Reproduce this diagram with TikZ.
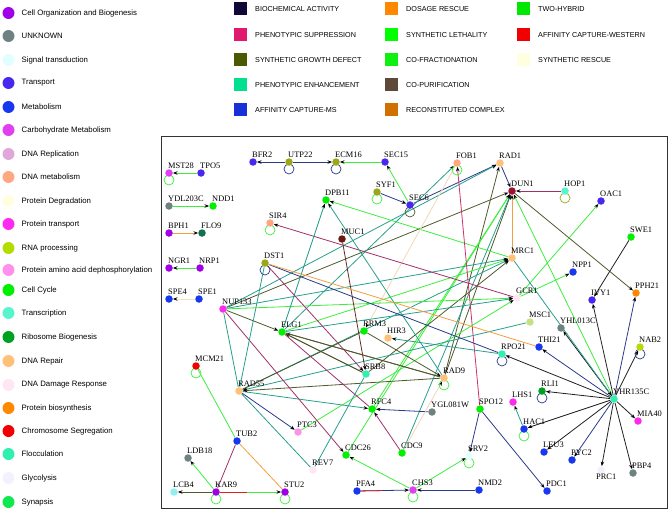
\documentclass[tikz,border=0pt]{standalone}
\usepackage{fontspec}
\setmainfont{Liberation Serif}
\setsansfont{Liberation Sans}
\usetikzlibrary{arrows.meta,calc,backgrounds}

% process colours (node fill)
\definecolor{cOrg}{HTML}{A000E8}
\definecolor{cUnk}{HTML}{6E8282}
\definecolor{cSig}{HTML}{E2FFFF}
\definecolor{cTrans}{HTML}{4828F0}
\definecolor{cMet}{HTML}{1838F0}
\definecolor{cCarb}{HTML}{E040F0}
\definecolor{cDRep}{HTML}{E0A8D8}
\definecolor{cDMet}{HTML}{FFA880}
\definecolor{cPDeg}{HTML}{FFFFE0}
\definecolor{cPTr}{HTML}{FF28F0}
\definecolor{cRNA}{HTML}{B4DC00}
\definecolor{cDeph}{HTML}{FF90EC}
\definecolor{cCC}{HTML}{00F000}
\definecolor{cTxn}{HTML}{58F4CC}
\definecolor{cRibo}{HTML}{00A020}
\definecolor{cRep}{HTML}{FFC078}
\definecolor{cDDR}{HTML}{FFE6F2}
\definecolor{cPBio}{HTML}{FF8800}
\definecolor{cChr}{HTML}{F00000}
\definecolor{cFloc}{HTML}{30F0B0}
\definecolor{cGly}{HTML}{F2F2FF}
\definecolor{cSyn}{HTML}{10E850}
\definecolor{cOlv}{HTML}{9AA818}
\definecolor{cMuc}{HTML}{6A1A10}
\definecolor{cDun}{HTML}{A01030}
\definecolor{cFlo}{HTML}{107050}
\definecolor{cMsc}{HTML}{C4E088}
\definecolor{cLcb}{HTML}{90F0F0}

% interaction colours (key)
\definecolor{kBio}{HTML}{100838}
\definecolor{kPSup}{HTML}{E0186E}
\definecolor{kSGD}{HTML}{4A5A00}
\definecolor{kPEnh}{HTML}{00E090}
\definecolor{kACMS}{HTML}{1830D8}
\definecolor{kDos}{HTML}{FF8800}
\definecolor{kSL}{HTML}{00FF00}
\definecolor{kCoF}{HTML}{10F010}
\definecolor{kCoP}{HTML}{5E4838}
\definecolor{kRec}{HTML}{D07000}
\definecolor{kTwo}{HTML}{00E800}
\definecolor{kACW}{HTML}{F00000}
\definecolor{kSRes}{HTML}{FFFFE0}

% edge colours as drawn
\definecolor{eGreen}{HTML}{3CEE3C}
\definecolor{eTeal}{HTML}{26A08C}
\definecolor{eOlive}{HTML}{4E5A2C}
\definecolor{eNavy}{HTML}{2A3A8A}
\definecolor{ePurp}{HTML}{A0306A}
\definecolor{ePink}{HTML}{D0306A}
\definecolor{eOrng}{HTML}{F0A040}
\definecolor{eBeige}{HTML}{F0E8B0}
\definecolor{eSand}{HTML}{F0D8B8}
\definecolor{eBlack}{HTML}{202020}
\definecolor{eRed}{HTML}{E02020}
\definecolor{eBrown}{HTML}{6A2A20}

\tikzset{
  gdot/.style={circle,minimum size=7.5pt,inner sep=0pt},
  gname/.style={font=\fontsize{8.4}{8.4}\selectfont,inner sep=0pt,anchor=south west},
  link/.style={line width=0.8pt,-{Stealth[length=4.5pt,width=3.5pt,color=black]}},
  bare/.style={line width=0.8pt},
  loopline/.style={line width=0.7pt},
  ldot/.style={circle,minimum size=12pt,inner sep=0pt},
  lbox/.style={minimum size=13pt,inner sep=0pt},
  ltext/.style={font=\sffamily\fontsize{7.8}{7.8}\selectfont,anchor=west,inner sep=0pt},
  ktext/.style={font=\sffamily\fontsize{7.2}{7.2}\selectfont,anchor=west,inner sep=0pt},
}

% gene node with its name above right
\newcommand{\gene}[4]{%
  \node[gdot,fill=#4] (#1) at (#2,#3) {};
  \node[gname] (#1-t) at ([xshift=-1pt]#1.north) {#1};}
% self interaction
\newcommand{\ring}[2]{\draw[loopline,#2] ([yshift=-7pt]#1.center) circle (5pt);}

\begin{document}
\begin{tikzpicture}[x=1pt,y=-1pt]
  \useasboundingbox (0,0) rectangle (670,511);

  % process legend
  \foreach \y/\c/\t in {13/cOrg/Cell Organization and Biogenesis, 36/cUnk/UNKNOWN,
      60/cSig/Signal transduction, 83/cTrans/Transport, 107/cMet/Metabolism,
      130/cCarb/Carbohydrate Metabolism, 154/cDRep/DNA Replication,
      177/cDMet/DNA metabolism, 201/cPDeg/Protein Degradation,
      224/cPTr/Protein transport, 248/cRNA/RNA processing,
      270/cDeph/Protein amino acid dephosphorylation, 290/cCC/Cell Cycle,
      313/cTxn/Transcription, 337/cRibo/Ribosome Biogenesis, 361/cRep/DNA Repair,
      385/cDDR/DNA Damage Response, 408/cPBio/Protein biosynthesis,
      431/cChr/Chromosome Segregation, 454/cFloc/Flocculation,
      478/cGly/Glycolysis, 502/cSyn/Synapsis}{
    \node[ldot,fill=\c] (proc-\y) at (8.5,\y) {};
    \node[ltext] (proc-\y-t) at (21.5,\y) {\t};
  }

  % interaction legend
  \foreach \x/\y/\c/\t in {240/9/kBio/BIOCHEMICAL ACTIVITY,
      240/35/kPSup/PHENOTYPIC SUPPRESSION, 240/60/kSGD/SYNTHETIC GROWTH DEFECT,
      240/85/kPEnh/PHENOTYPIC ENHANCEMENT, 240/110/kACMS/AFFINITY CAPTURE-MS,
      391/9/kDos/DOSAGE RESCUE, 391/35/kSL/SYNTHETIC LETHALITY,
      391/60/kCoF/CO-FRACTIONATION, 391/85/kCoP/CO-PURIFICATION,
      391/110/kRec/RECONSTITUTED COMPLEX, 523/9/kTwo/TWO-HYBRID,
      523/35/kACW/AFFINITY CAPTURE-WESTERN, 523/60/kSRes/SYNTHETIC RESCUE}{
    \node[lbox,fill=\c] (key-\x-\y) at (\x,\y) {};
    \node[ktext] (key-\x-\y-t) at (\x+15,\y) {\t};
  }

  % network frame
  \draw[line width=1pt,black!80] (161,136) rectangle (667,508);

  % genes
  \gene{MST28}{169}{173}{cCarb}
  \gene{TPO5}{201}{173}{cTrans}
  \gene{BFR2}{253}{162}{cTrans}
  \gene{UTP22}{289}{162}{cOlv}
  \gene{ECM16}{336}{162}{cOlv}
  \gene{SEC15}{385}{162}{cTrans}
  \gene{SYF1}{377}{192}{cOlv}
  \gene{SEC6}{410}{205}{cTrans}
  \gene{DPB11}{326}{200}{cCC}
  \gene{FOB1}{457}{163}{cDMet}
  \gene{RAD1}{500}{163}{cRep}
  \gene{DUN1}{512}{191}{cDun}
  \gene{HOP1}{565}{191}{cTxn}
  \gene{OAC1}{601}{201}{cTrans}
  \gene{SWE1}{631}{237}{cCC}
  \gene{YDL203C}{169}{206}{cUnk}
  \gene{NDD1}{213}{206}{cCC}
  \gene{BPH1}{169}{233}{cOrg}
  \gene{FLO9}{202}{233}{cFlo}
  \gene{SIR4}{270}{223}{cDMet}
  \gene{MUC1}{342}{239}{cMuc}
  \gene{DST1}{265}{263}{cOlv}
  \gene{MRC1}{512}{258}{cRep}
  \gene{NGR1}{169}{268}{cOrg}
  \gene{NRP1}{200}{268}{cOrg}
  \gene{NPP1}{573}{272}{cMet}
  \gene{PPH21}{636}{293}{cPBio}
  \gene{GCR1}{517}{298}{cDDR}
  \gene{IVY1}{592}{300}{cTrans}
  \gene{SPE4}{169}{299}{cMet}
  \gene{SPE1}{199}{299}{cMet}
  \gene{NUP133}{223}{309}{cPTr}
  \gene{MSC1}{530}{322}{cMsc}
  \gene{YHL013C}{561}{328}{cUnk}
  \gene{ELG1}{282}{332}{cCC}
  \gene{RRM3}{364}{331}{cCC}
  \gene{HIR3}{388}{338}{cRep}
  \gene{THI21}{539}{347}{cMet}
  \gene{NAB2}{640}{347}{cRNA}
  \gene{RPO21}{502}{354}{cFloc}
  \gene{MCM21}{196}{366}{cChr}
  \gene{SRB8}{366}{374}{cFloc}
  \gene{RAD9}{444}{378}{cRep}
  \gene{RAD55}{239}{391}{cRep}
  \gene{RLI1}{542}{391}{cRibo}
  \gene{YHR135C}{614}{399}{cFloc}
  \gene{LHS1}{513}{402}{cPTr}
  \gene{RFC4}{372}{409}{cCC}
  \gene{SPO12}{480}{409}{cCC}
  \gene{YGL081W}{432}{412}{cUnk}
  \gene{MIA40}{638}{421}{cPTr}
  \gene{HAC1}{524}{429}{cMet}
  \gene{PTC3}{298}{432}{cDeph}
  \gene{TUB2}{237}{441}{cMet}
  \gene{CDC9}{402}{453}{cCC}
  \gene{LEU3}{544}{452}{cMet}
  \gene{CDC26}{346}{455}{cCC}
  \gene{SRV2}{469}{456}{cSig}
  \gene{LDB18}{188}{458}{cUnk}
  \gene{PYC2}{572}{460}{cMet}
  \gene{REV7}{313}{470}{cDDR}
  \gene{PBP4}{633}{473}{cUnk}
  \gene{LCB4}{174}{492}{cLcb}
  \gene{KAR9}{216}{492}{cOrg}
  \gene{STU2}{285}{492}{cOrg}
  \gene{PFA4}{357}{491}{cMet}
  \gene{CHS3}{413}{490}{cCarb}
  \gene{NMD2}{479}{490}{cMet}
  \gene{PDC1}{547}{491}{cMet}
  % name set below its (pale) dot
  \node[gdot,fill=cGly] (PRC1) at (601,470) {};
  \node[gname,anchor=north west] (PRC1-t) at (596,474) {PRC1};

  \begin{scope}[on background layer]
    % directed interactions
    \foreach \a/\b/\c in {TPO5/MST28/eGreen, YDL203C/NDD1/eGreen, BPH1/FLO9/eOrng,
        NRP1/NGR1/eGreen, SPE1/SPE4/eBeige, UTP22/BFR2/eNavy, UTP22/ECM16/eNavy,
        SEC15/ECM16/eGreen, SEC6/SEC15/eGreen, SYF1/SEC6/eNavy, SEC6/RAD1/eNavy,
        HOP1/DUN1/ePurp, RAD1/DUN1/eNavy, MRC1/DUN1/eOrng, RAD9/DUN1/eOlive,
        RAD9/RAD1/eOlive, NUP133/DUN1/eOlive, NUP133/RAD1/eTeal, RFC4/DUN1/eGreen,
        CDC9/DUN1/eTeal, CDC26/DUN1/eGreen, YHR135C/DUN1/eGreen, DUN1/PPH21/eOlive,
        MRC1/DPB11/eGreen, NUP133/MRC1/eTeal, ELG1/MRC1/eGreen, RAD55/MRC1/eTeal,
        SRB8/MRC1/eOlive, ELG1/FOB1/eTeal, FOB1/RRM3/eSand, SPO12/FOB1/ePink,
        GCR1/SIR4/ePurp, NUP133/GCR1/eGreen, PTC3/GCR1/eGreen, ELG1/GCR1/eTeal,
        GCR1/NPP1/eGreen, GCR1/OAC1/eGreen, RPO21/HIR3/eTeal, MSC1/RAD55/eTeal,
        SWE1/IVY1/eBlack, YHR135C/IVY1/eBlack, YHR135C/YHL013C/eBlack,
        YHR135C/THI21/eNavy, YHR135C/RPO21/eBlack, YHR135C/PPH21/eNavy,
        YHR135C/NAB2/eBlack, YHR135C/RLI1/eBlack, YHR135C/HAC1/eBlack,
        YHR135C/MIA40/eBlack, YHR135C/LEU3/eBlack, YHR135C/PYC2/eNavy,
        YHR135C/PBP4/eBlack, YHR135C/PRC1/eBlack, MRC1/YHR135C/eTeal,
        HAC1/LHS1/eTeal, NMD2/CHS3/eNavy, CHS3/SRV2/eGreen, CHS3/CDC26/eGreen,
        SPO12/SRV2/eNavy, SPO12/PDC1/eNavy, YGL081W/RFC4/eNavy, CDC9/RFC4/ePurp,
        CDC9/RAD9/eSand, KAR9/LCB4/eOlive, KAR9/LDB18/eGreen, RAD55/PTC3/eNavy,
        RAD55/RFC4/eTeal, RAD9/RAD55/eOlive, NUP133/ELG1/eOlive, RAD9/ELG1/eOlive,
        SRB8/ELG1/eOlive, RRM3/RAD9/eOlive, ELG1/DPB11/eTeal, RAD9/DPB11/eTeal,
        MUC1/SRB8/eBrown, DST1/SRB8/ePurp, NUP133/CDC26/ePurp}
      \draw[link,draw=\c] (\a) -- (\b);

    % undirected interactions
    \foreach \a/\b/\c in {KAR9/TUB2/ePurp, TUB2/STU2/eOrng, MCM21/TUB2/eGreen,
        RAD55/REV7/eTeal, REV7/SRB8/eTeal, DST1/RAD55/eTeal, NUP133/RAD55/eTeal,
        ELG1/RFC4/ePurp, ELG1/SRB8/eOlive, ELG1/RAD9/eOlive, RAD55/RRM3/eOlive,
        DST1/RPO21/eNavy, DST1/THI21/eOrng}
      \draw[bare,draw=\c] (\a) -- (\b);

    % two-coloured links
    \draw[link,draw=eNavy] (PFA4) -- (CHS3);
    \draw[bare,draw=eRed] (PFA4) -- ($(PFA4)!.45!(CHS3)$);
    \draw[link,draw=eGreen] (KAR9) -- (STU2);
    \draw[bare,draw=eRed] (KAR9) -- ($(KAR9)!.45!(STU2)$);

    % self interactions
    \ring{MST28}{eGreen}
    \ring{UTP22}{eNavy}
    \ring{ECM16}{eNavy}
    \ring{SEC6}{eOlive}
    \ring{SYF1}{eGreen}
    \ring{FOB1}{eGreen}
    \ring{HOP1}{cOlv}
    \ring{DST1}{eNavy}
    \ring{SIR4}{eGreen}
    \ring{MCM21}{eGreen}
    \ring{RAD9}{eGreen}
    \ring{RPO21}{eNavy}
    \ring{NAB2}{eNavy}
    \ring{RLI1}{eNavy}
    \ring{HAC1}{eGreen}
    \ring{SRV2}{eGreen}
    \ring{CHS3}{eGreen}
    \ring{KAR9}{eGreen}
    \ring{STU2}{eGreen}
  \end{scope}
\end{tikzpicture}
\end{document}
